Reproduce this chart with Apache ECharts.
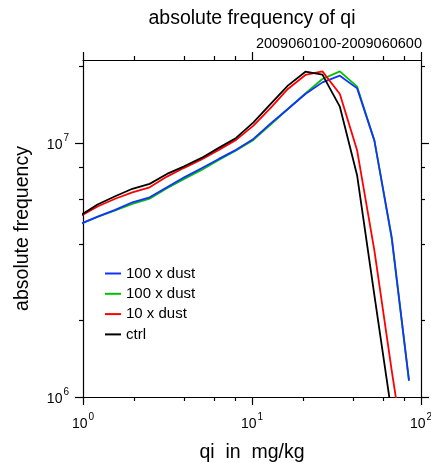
<!DOCTYPE html>
<html><head><meta charset="utf-8">
<script src="https://cdn.jsdelivr.net/npm/echarts@6/dist/echarts.min.js"></script>
<style>html,body{margin:0;padding:0;background:#fff}#c{width:431px;height:463px}</style>
</head><body><div id="c"></div>
<script>
// qi bin centres (mg/kg)
const qiBins = [0.967, 1.22, 1.55, 1.96, 2.48, 3.14, 3.97, 5.03, 6.36, 8.05, 10.2, 12.9, 16.3, 20.7, 26.1, 33.1, 41.9, 53.0, 67.1, 84.9];
// absolute frequency, per run
const dust100a = [4.80e6, 5.13e6, 5.45e6, 5.84e6, 6.11e6, 6.69e6, 7.32e6, 7.95e6, 8.65e6, 9.39e6, 10.37e6, 11.94e6, 13.60e6, 15.58e6, 17.31e6, 18.39e6, 16.39e6, 10.21e6, 4.26e6, 1.16e6];
const dust100b = [4.80e6, 5.11e6, 5.42e6, 5.76e6, 6.03e6, 6.63e6, 7.22e6, 7.83e6, 8.57e6, 9.33e6, 10.28e6, 11.80e6, 13.60e6, 15.67e6, 17.85e6, 19.12e6, 16.65e6, 10.21e6, 4.19e6, 1.16e6];
const dust10 = [5.16e6, 5.62e6, 6.03e6, 6.39e6, 6.69e6, 7.37e6, 7.98e6, 8.60e6, 9.39e6, 10.28e6, 11.70e6, 13.73e6, 16.31e6, 18.51e6, 19.12e6, 15.58e6, 9.33e6, 3.77e6, 1.27e6, 0.46e6];
const ctrl = [5.19e6, 5.72e6, 6.17e6, 6.60e6, 6.90e6, 7.55e6, 8.09e6, 8.73e6, 9.56e6, 10.46e6, 12.05e6, 14.23e6, 16.80e6, 19.07e6, 18.56e6, 13.89e6, 7.44e6, 2.51e6, 0.86e6];
const xMajorTicks = [1, 10, 100];
const xMinorTicks = [2, 4, 6, 8, 20, 40, 60, 80];
const yMajorTicks = [1e6, 1e7];
const yMinorTicks = [2e6, 4e6, 6e6, 8e6, 2e7];
const legendNames = ['100 x dust', '100 x dust ', '10 x dust', 'ctrl'];

const FONT = 'Liberation Sans, Arial, Helvetica, sans-serif';
function pair(xs, ys) { return ys.map((v, i) => [xs[i], v]); }
function expLabel(v) { const e = Math.round(Math.log10(v)); return '{b|10}{s|' + e + '}'; }
const rich = {
  b: { fontSize: 14, fontFamily: FONT, color: '#000', verticalAlign: 'bottom', lineHeight: 19 },
  s: { fontSize: 10, fontFamily: FONT, color: '#000', verticalAlign: 'top', lineHeight: 19, padding: [0, 0, 0, 1] }
};
const lineAx = { show: true, lineStyle: { color: '#000', width: 1.2 } };

function xAx(pos, minor, labels) {
  return {
    type: 'log', logBase: 10, min: 1, max: 100, position: pos,
    axisLine: minor ? { show: false } : lineAx,
    axisTick: { show: true, inside: false, length: minor ? 4 : 8, customValues: minor ? xMinorTicks : xMajorTicks, lineStyle: { color: '#000', width: 1.2 } },
    axisLabel: labels ? { show: true, customValues: xMajorTicks, formatter: expLabel, rich: rich, margin: 15 } : { show: false },
    splitLine: { show: false }, minorTick: { show: false }
  };
}
function yAx(pos, minor, labels) {
  return {
    type: 'log', logBase: 10, min: 1e6, max: 2.12e7, position: pos,
    axisLine: minor ? { show: false } : lineAx,
    axisTick: { show: true, inside: false, length: minor ? 4 : 8, customValues: minor ? yMinorTicks : yMajorTicks, lineStyle: { color: '#000', width: 1.2 } },
    axisLabel: labels ? { show: true, customValues: yMajorTicks, formatter: expLabel, rich: rich, margin: 14 } : { show: false },
    splitLine: { show: false }, minorTick: { show: false }
  };
}

const xAxes = [xAx('bottom', false, true), xAx('bottom', true, false), xAx('top', false, false), xAx('top', true, false)];
xAxes[0].name = 'qi  in  mg/kg';
xAxes[0].nameLocation = 'middle';
xAxes[0].nameGap = 46;
xAxes[0].nameTextStyle = { fontSize: 19.5, fontFamily: FONT, color: '#000' };
const yAxes = [yAx('left', false, true), yAx('left', true, false), yAx('right', false, false), yAx('right', true, false)];
yAxes[0].name = 'absolute frequency';
yAxes[0].nameLocation = 'middle';
yAxes[0].nameGap = 50;
yAxes[0].nameTextStyle = { fontSize: 19.5, fontFamily: FONT, color: '#000' };

function ser(name, data, color) {
  return { name: name, type: 'line', data: data, symbol: 'none', xAxisIndex: 0, yAxisIndex: 0,
    lineStyle: { color: color, width: 1.8 }, itemStyle: { color: color }, clip: true, animation: false };
}

const chart = echarts.init(document.getElementById('c'), null, { renderer: 'canvas' });
chart.setOption({
  backgroundColor: '#fff',
  animation: false,
  title: [
    { text: 'absolute frequency of qi', left: 252, top: 9, padding: 0, textAlign: 'center',
      textStyle: { fontSize: 19.5, fontWeight: 'normal', fontFamily: FONT, color: '#000' } },
    { text: '2009060100-2009060600', right: 9, top: 36, padding: 0,
      textStyle: { fontSize: 14.5, fontWeight: 'normal', fontFamily: FONT, color: '#000' } }
  ],
  grid: { left: 83, right: 10, top: 60, bottom: 66, containLabel: false, outerBoundsMode: 'none' },
  legend: {
    orient: 'vertical', left: 105, top: 266, padding: 0, icon: 'rect', itemWidth: 16, itemHeight: 2, itemGap: 5.3,
    data: legendNames,
    textStyle: { fontSize: 15, lineHeight: 15, fontFamily: FONT, color: '#000' }
  },
  xAxis: xAxes,
  yAxis: yAxes,
  series: [
    ser(legendNames[1], pair(qiBins, dust100b), '#00c000'),
    ser(legendNames[0], pair(qiBins, dust100a), '#1432ff'),
    ser(legendNames[2], pair(qiBins, dust10), '#ff0000'),
    ser(legendNames[3], pair(qiBins, ctrl), '#000000')
  ]
});
</script></body></html>
